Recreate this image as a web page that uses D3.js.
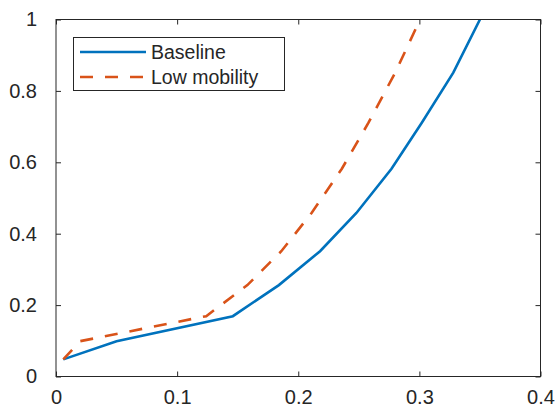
<!DOCTYPE html>
<html><head><meta charset="utf-8">
<script src="https://cdn.jsdelivr.net/npm/d3@7"></script>
<style>body{margin:0;background:#fff}svg{display:block}text{font-family:"Liberation Sans",Arial,sans-serif;fill:#262626}</style>
</head><body><svg id="c" width="555" height="409"></svg>
<script>
const seriesNames = ["Baseline", "Low mobility"];
const yNodes = [0.048, 0.099, 0.169, 0.256, 0.351, 0.458, 0.582, 0.711, 0.851, 1.0];
const baselineX = [0.006, 0.050, 0.146, 0.184, 0.218, 0.248, 0.277, 0.302, 0.328, 0.350];
const lowMobilityX = [0.006, 0.020, 0.124, 0.158, 0.186, 0.211, 0.236, 0.258, 0.280, 0.3006];
const xTicks = [0, 0.1, 0.2, 0.3, 0.4];
const yTicks = [0, 0.2, 0.4, 0.6, 0.8, 1];
const colors = ["#0072BD", "#D95319"];

const svg = d3.select("#c");
const L = 56, R = 540.5, T = 19.5, B = 376.5;
const x = d3.scaleLinear().domain([0, 0.4]).range([L, R]);
const y = d3.scaleLinear().domain([0, 1]).range([B, T]);
const fmt = d => d === 0 ? "0" : d === 1 ? "1" : String(d);
const axisCol = "#262626";

const series = [
  {name: seriesNames[0], pts: yNodes.map((v, i) => [baselineX[i], v]), color: colors[0], dash: null},
  {name: seriesNames[1], pts: yNodes.map((v, i) => [lowMobilityX[i], v]), color: colors[1], dash: "13,12"}
];

svg.append("clipPath").attr("id", "clip").append("rect")
  .attr("x", L).attr("y", T).attr("width", R - L).attr("height", B - T);

const line = d3.line().x(d => x(d[0])).y(d => y(d[1]));
series.forEach(s => {
  svg.append("path").attr("d", line(s.pts)).attr("fill", "none")
    .attr("stroke", s.color).attr("stroke-width", 2.6)
    .attr("stroke-dasharray", s.dash).attr("clip-path", "url(#clip)");
});

function styleAxis(g) {
  g.select(".domain").remove();
  g.selectAll("line").attr("stroke", axisCol);
  g.selectAll("text").attr("font-size", "20px").attr("fill", axisCol)
    .attr("font-family", '"Liberation Sans",Arial,sans-serif');
}
svg.append("g").attr("transform", `translate(0,${B})`)
  .call(d3.axisBottom(x).tickValues(xTicks).tickFormat(fmt).tickSizeInner(-5).tickPadding(13))
  .call(styleAxis);
svg.append("g").attr("transform", `translate(0,${T})`)
  .call(d3.axisTop(x).tickValues(xTicks).tickFormat("").tickSizeInner(-5))
  .call(styleAxis);
svg.append("g").attr("transform", `translate(${L},0)`)
  .call(d3.axisLeft(y).tickValues(yTicks).tickFormat(fmt).tickSizeInner(-5).tickPadding(19))
  .call(styleAxis);
svg.append("g").attr("transform", `translate(${R},0)`)
  .call(d3.axisRight(y).tickValues(yTicks).tickFormat("").tickSizeInner(-5))
  .call(styleAxis);

svg.append("rect").attr("x", L).attr("y", T).attr("width", R - L).attr("height", B - T)
  .attr("fill", "none").attr("stroke", axisCol).attr("stroke-width", 1);

// legend
const lg = svg.append("g");
lg.append("rect").attr("x", 73.5).attr("y", 37.5).attr("width", 211).attr("height", 53)
  .attr("fill", "#fff").attr("stroke", axisCol).attr("stroke-width", 1);
series.forEach((s, i) => {
  const yy = 52 + i * 25;
  lg.append("line").attr("x1", 80).attr("x2", 146).attr("y1", yy).attr("y2", yy)
    .attr("stroke", s.color).attr("stroke-width", 2.6).attr("stroke-dasharray", s.dash);
  lg.append("text").attr("x", 151).attr("y", yy).attr("dy", "0.35em")
    .attr("font-size", "19.5px").text(s.name);
});
</script></body></html>
